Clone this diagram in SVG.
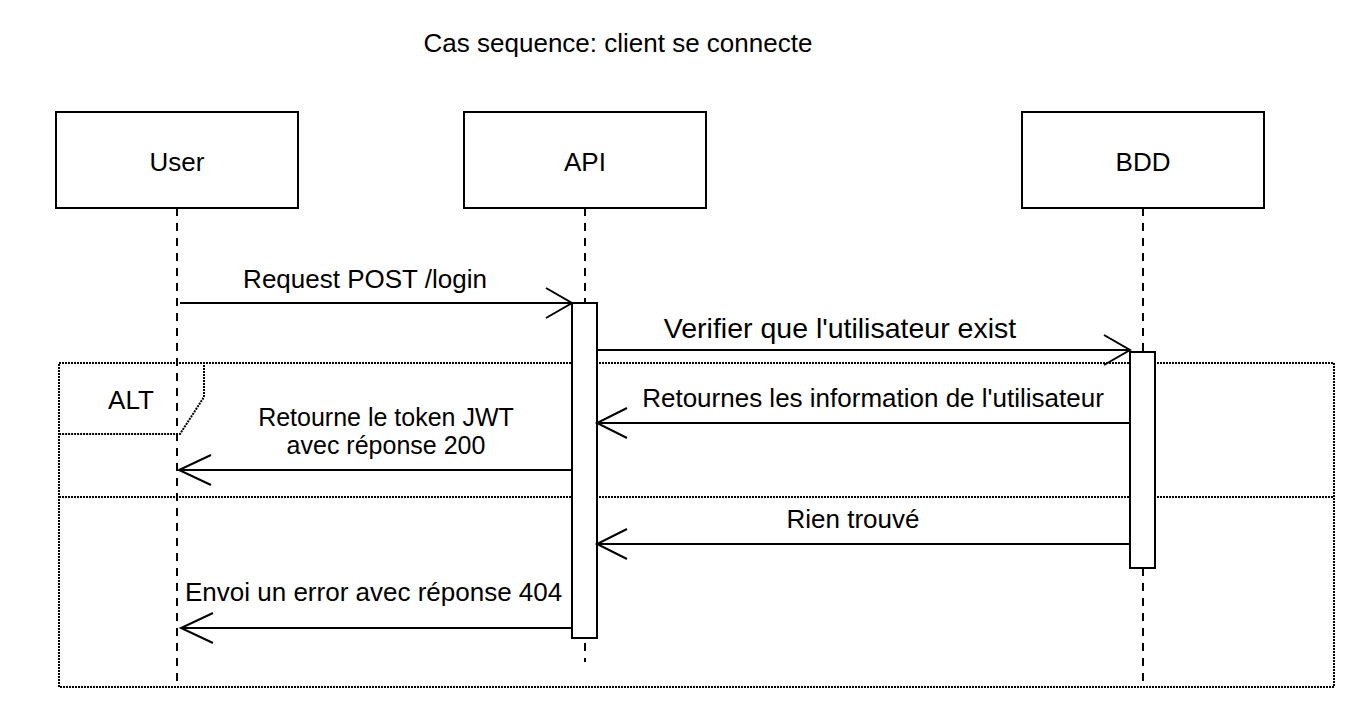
<svg xmlns="http://www.w3.org/2000/svg" width="1355" height="710" viewBox="0 0 1355 710">
<style>
text{font-family:"Liberation Sans",Arial,Helvetica,sans-serif;fill:#000;font-size:26px}
.box{fill:#fff;stroke:#000;stroke-width:2}
.life{stroke:#000;stroke-width:2;stroke-dasharray:8 7;fill:none}
.act{fill:#fff;stroke:#000;stroke-width:2}
.msg{stroke:#000;stroke-width:2;fill:none}
.head{stroke:#000;stroke-width:2;fill:none}
.frame{stroke:#000;stroke-width:2;stroke-dasharray:2 1;fill:none}
.c{text-anchor:middle}
</style>
<text id="title" x="618" y="52" class="c">Cas sequence: client se connecte</text>
<g id="lifelines">
<line class="life" x1="177" y1="208" x2="177" y2="688"/>
<line class="life" x1="585" y1="208" x2="585" y2="662"/>
<line class="life" x1="1143" y1="208" x2="1143" y2="688"/>
</g>
<g id="frame-alt">
<rect class="frame" x="59" y="363" width="1275" height="324"/>
<path class="frame" d="M59,363 H204 V397 L180,434 H59"/>
<line class="frame" x1="59" y1="497" x2="1334" y2="497"/>
<text x="131" y="409" class="c">ALT</text>
</g>
<g id="user"><rect class="box" x="56" y="112" width="242" height="96"/><text x="177" y="171" class="c">User</text></g>
<g id="api"><rect class="box" x="464" y="112" width="242" height="96"/><text x="585" y="171" class="c">API</text></g>
<g id="bdd"><rect class="box" x="1022" y="112" width="242" height="96"/><text x="1143" y="171" class="c">BDD</text></g>
<g id="activations">
<rect class="act" x="572" y="303" width="25" height="335"/>
<rect class="act" x="1130" y="352" width="25" height="216"/>
</g>
<g id="connectors">
<line class="msg" x1="180" y1="303" x2="572" y2="303"/>
<path class="head" d="M546,288 L572,303 L546,318"/>
<text x="365" y="288" class="c">Request POST /login</text>

<line class="msg" x1="597" y1="350" x2="1130" y2="350"/>
<path class="head" d="M1104,335 L1130,350 L1104,365"/>
<text x="840" y="338" class="c" style="font-size:28.5px">Verifier que l'utilisateur exist</text>

<line class="msg" x1="1130" y1="423" x2="597" y2="423"/>
<path class="head" d="M627,408 L597,423 L627,438"/>
<text x="873" y="407" class="c">Retournes les information de l'utilisateur</text>

<line class="msg" x1="572" y1="470" x2="179" y2="470"/>
<path class="head" d="M211,455 L179,470 L211,485"/>
<text x="386" y="426" class="c" style="font-size:25px">Retourne le token JWT</text>
<text x="386" y="454" class="c" style="font-size:25px">avec réponse 200</text>

<line class="msg" x1="1130" y1="544" x2="597" y2="544"/>
<path class="head" d="M627,529 L597,544 L627,559"/>
<text x="853" y="528" class="c">Rien trouvé</text>

<line class="msg" x1="572" y1="628" x2="181" y2="628"/>
<path class="head" d="M213,613 L181,628 L213,643"/>
<text x="185" y="601">Envoi un error avec réponse 404</text>
</g>
</svg>
